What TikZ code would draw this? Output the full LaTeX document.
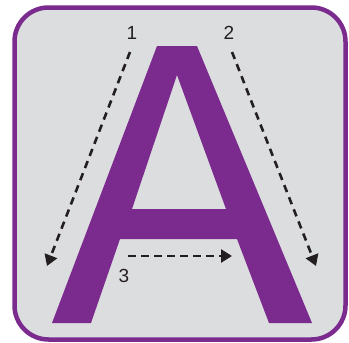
\documentclass[tikz,border=0pt]{standalone}
\usepackage{fontspec}
\setmainfont{Liberation Sans}
\usepackage{tikz}
\usetikzlibrary{positioning}
\usetikzlibrary{calc}
\usetikzlibrary{arrows.meta}

\definecolor{letterpurple}{RGB}{123,42,142}
\definecolor{tilegray}{RGB}{220,221,223}
\definecolor{strokeblack}{RGB}{35,31,32}

\tikzset{
    strokearrow/.style={draw=strokeblack, line width=2.6pt, dash pattern=on 7.5pt off 5.5pt, -{Triangle[length=11pt,width=13pt]}},
    strokenum/.style={inner sep=0pt, text=strokeblack, font=\fontsize{19}{19}\selectfont},
}

\begin{document}
\begin{tikzpicture}[x=1pt, y=-1pt]
    \useasboundingbox (0,0) rectangle (349,343);

    % tile
    \draw[letterpurple, fill=tilegray, line width=4.5pt, rounded corners=34pt] (14.5,7.5) rectangle (345.5,339.5);

    % letter
    \fill[letterpurple, even odd rule]
        (157,46) -- (197,46) -- (312,323) -- (269,323) -- (237,239) -- (120,239) -- (91,323) -- (52,323) -- cycle
        (177,75) -- (226,209) -- (132,209) -- cycle;

    % strokes
    \node[strokenum] (one) at (132,33) {1};
    \node[strokenum] (two) at (229,33) {2};
    \node[strokenum] (three) at (124,276) {3};

    \coordinate (onestart) at (130,52);
    \coordinate (oneend) at (47,266);
    \coordinate (twostart) at (232,52);
    \coordinate (twoend) at (316,266);
    \coordinate (threestart) at (128,256);
    \coordinate (threeend) at (232,256);

    \draw[strokearrow] (onestart) -- (oneend);
    \draw[strokearrow] (twostart) -- (twoend);
    \draw[strokearrow] (threestart) -- (threeend);
\end{tikzpicture}
\end{document}
